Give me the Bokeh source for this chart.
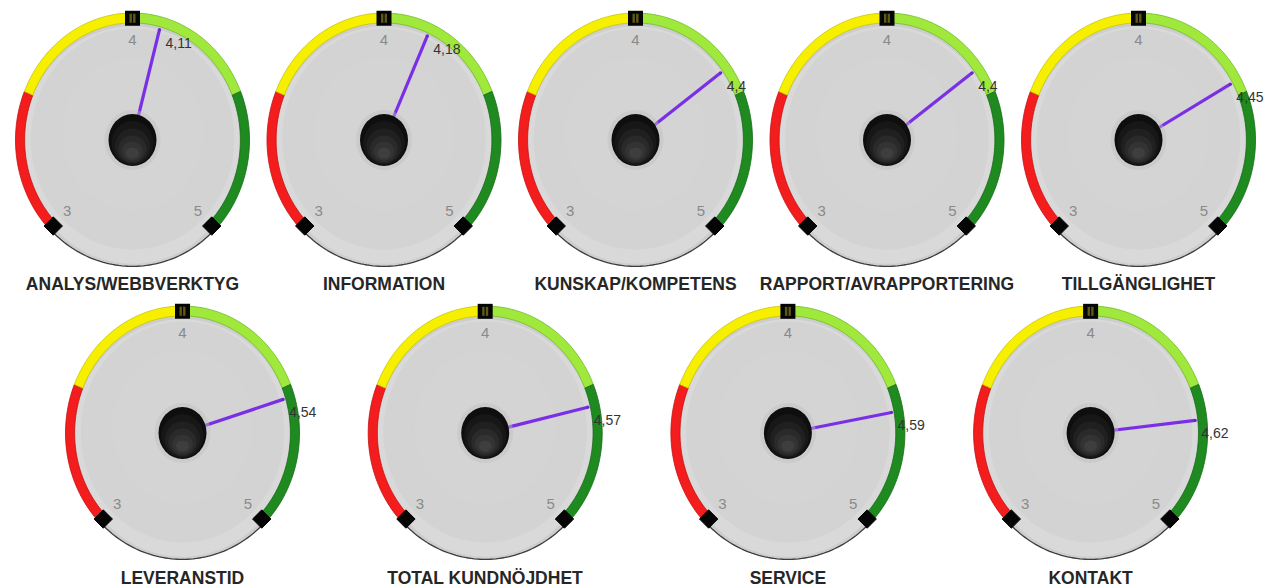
import numpy as np
from bokeh.plotting import figure
from bokeh.models import Range1d
from bokeh.embed import file_html
from bokeh.resources import INLINE
from bokeh.core.properties import value

# ---------------- data ----------------
titles = ["ANALYS/WEBBVERKTYG", "INFORMATION", "KUNSKAP/KOMPETENS",
          "RAPPORT/AVRAPPORTERING", "TILLGÄNGLIGHET",
          "LEVERANSTID", "TOTAL KUNDNÖJDHET", "SERVICE", "KONTAKT"]
values = [4.11, 4.18, 4.40, 4.40, 4.45, 4.54, 4.57, 4.59, 4.62]
value_labels = ["4,11", "4,18", "4,4", "4,4", "4,45", "4,54", "4,57", "4,59", "4,62"]
scale_min, scale_max = 3.0, 5.0
tick_values = [3, 4, 5]
tick_labels = ["3", "4", "5"]
band_edges = [3.0, 3.5, 4.0, 4.5, 5.0]
band_colors = ["#f41d1d", "#f6f000", "#a0e83c", "#1f8a1f"]
band_lines = ["#c41010", "#c9c400", "#6cbd25", "#176a17"]

# ---------------- layout ----------------
W, H = 1278, 588
row_sizes = [5, 4]
row_x0 = [132.0, 182.0]
row_dx = [251.5, 302.7]
row_cy = [139.5, 432.5]      # screen y of gauge centres
row_title_y = [283.0, 577.0]
RX, RY = 117.0, 127.0
START_DEG, SWEEP_DEG = 225.0, 270.0

def ang(v):
    return np.radians(START_DEG - (v - scale_min) / (scale_max - scale_min) * SWEEP_DEG)

centers = []
title_pos = []
for r, n in enumerate(row_sizes):
    for i in range(n):
        cx = row_x0[r] + i * row_dx[r]
        cy = H - row_cy[r]
        centers.append((cx, cy))
        title_pos.append((cx, H - row_title_y[r]))

def ell(cx, cy, r, a0, a1, n=80, ox=0.0, oy=0.0):
    a = np.linspace(a0, a1, n)
    return list(cx + ox + r * RX * np.cos(a)), list(cy + oy + r * RY * np.sin(a))

p = figure(width=W, height=H, x_range=Range1d(0, W), y_range=Range1d(0, H),
           output_backend="svg", toolbar_location=None, min_border=0,
           x_axis_location=None, y_axis_location=None)
p.grid.visible = False
p.outline_line_color = None
p.background_fill_color = "white"
p.border_fill_color = "white"

def face_layer(r, color, oy=0.0, alpha=1.0):
    fx, fy = [], []
    for cx, cy in centers:
        x, y = ell(cx, cy, r, 0, 2 * np.pi, 120, oy=oy)
        fx.append(x); fy.append(y)
    p.patches(fx, fy, fill_color=color, fill_alpha=alpha, line_color=None)

# faces
face_layer(0.995, "#cdcdcd")
face_layer(0.935, "#d9d9d9", oy=-5)
face_layer(0.87, "#d3d3d3", oy=1)
face_layer(0.6, "#d6d6d6", oy=6, alpha=0.6)

# bottom rim line (5 -> 3 through the bottom)
lx, ly = [], []
for cx, cy in centers:
    x, y = ell(cx, cy, 0.995, ang(scale_max), ang(scale_min) - 2 * np.pi, 60)
    lx.append(x); ly.append(y)
p.multi_line(lx, ly, line_color="#3c3c3c", line_width=1.3)

# colour bands
for k in range(len(band_colors)):
    bx, by = [], []
    for cx, cy in centers:
        a0, a1 = ang(band_edges[k]), ang(band_edges[k + 1])
        xo, yo = ell(cx, cy, 1.0, a0, a1, 50)
        xi, yi = ell(cx, cy, 0.922, a1, a0, 50)
        bx.append(xo + xi); by.append(yo + yi)
    p.patches(bx, by, fill_color=band_colors[k], line_color=band_lines[k], line_width=0.8)

# tick markers
mx, my, mang = [], [], []
topx, topy = [], []
for cx, cy in centers:
    for t in tick_values:
        a = ang(t)
        x = cx + 0.958 * RX * np.cos(a)
        y = cy + 0.958 * RY * np.sin(a)
        if t in (scale_min, scale_max):
            mx.append(x); my.append(y); mang.append(np.pi / 4)
        else:
            topx.append(x); topy.append(y)
p.scatter(mx, my, marker="square", size=13, angle=mang,
          fill_color="#050505", line_color="#050505")
p.rect(topx, topy, width=15, height=15, fill_color="#050505", line_color=None)
p.rect(topx, topy, width=6, height=9, fill_color="#5e5a14", line_color=None)
p.rect(topx, topy, width=1.2, height=9, fill_color="#050505", line_color=None)

# tick labels
tlx, tly, tlt = [], [], []
for cx, cy in centers:
    for t, s in zip(tick_values, tick_labels):
        a = ang(t)
        tlx.append(cx + 0.79 * RX * np.cos(a))
        tly.append(cy + 0.79 * RY * np.sin(a))
        tlt.append(s)
p.text(tlx, tly, text=tlt, text_font=value("Liberation Sans"),
       text_font_size="15px", text_color="#8a8a8a",
       text_align="center", text_baseline="middle")

# value labels (drawn over the bands)
vx, vy = [], []
tips_x, tips_y = [], []
for (cx, cy), v in zip(centers, values):
    a = ang(v)
    tx = cx + 0.9 * RX * np.cos(a)
    ty = cy + 0.9 * RY * np.sin(a)
    tips_x.append(tx); tips_y.append(ty)
    vx.append(tx + 6); vy.append(ty - 13)
p.text(vx, vy, text=value_labels, text_font=value("Liberation Sans"),
       text_font_size="14px", text_color="#333333",
       text_align="left", text_baseline="middle")

# needles
cxs = [c[0] for c in centers]
cys = [c[1] for c in centers]
p.segment(cxs, cys, tips_x, tips_y, line_color="#7a2fe6", line_width=3.2)
p.circle(tips_x, tips_y, radius=1.6, fill_color="#6a25d0", line_color=None)

# knobs (layered to fake a sphere gradient)
p.ellipse(cxs, cys, width=56, height=60, fill_color="#c2c2c2", fill_alpha=0.45, line_color=None)
knob_layers = [(48, 52, 0, "#0e0e0e"), (42, 44, -3, "#171717"), (35, 35, -6, "#202020"),
               (28, 27, -9, "#2a2a2a"), (21, 19, -11, "#333333"), (13, 11, -13, "#3e3e3e")]
for kw, kh, off, col in knob_layers:
    p.ellipse(cxs, [y + off for y in cys], width=kw, height=kh, fill_color=col, line_color=None)

# titles
p.text([t[0] for t in title_pos], [t[1] for t in title_pos], text=titles,
       text_font=value("Liberation Sans"), text_font_style="bold",
       text_font_size="17.5px", text_color="#262626",
       text_align="center", text_baseline="middle")

open("out.html", "w").write(file_html(p, INLINE))
